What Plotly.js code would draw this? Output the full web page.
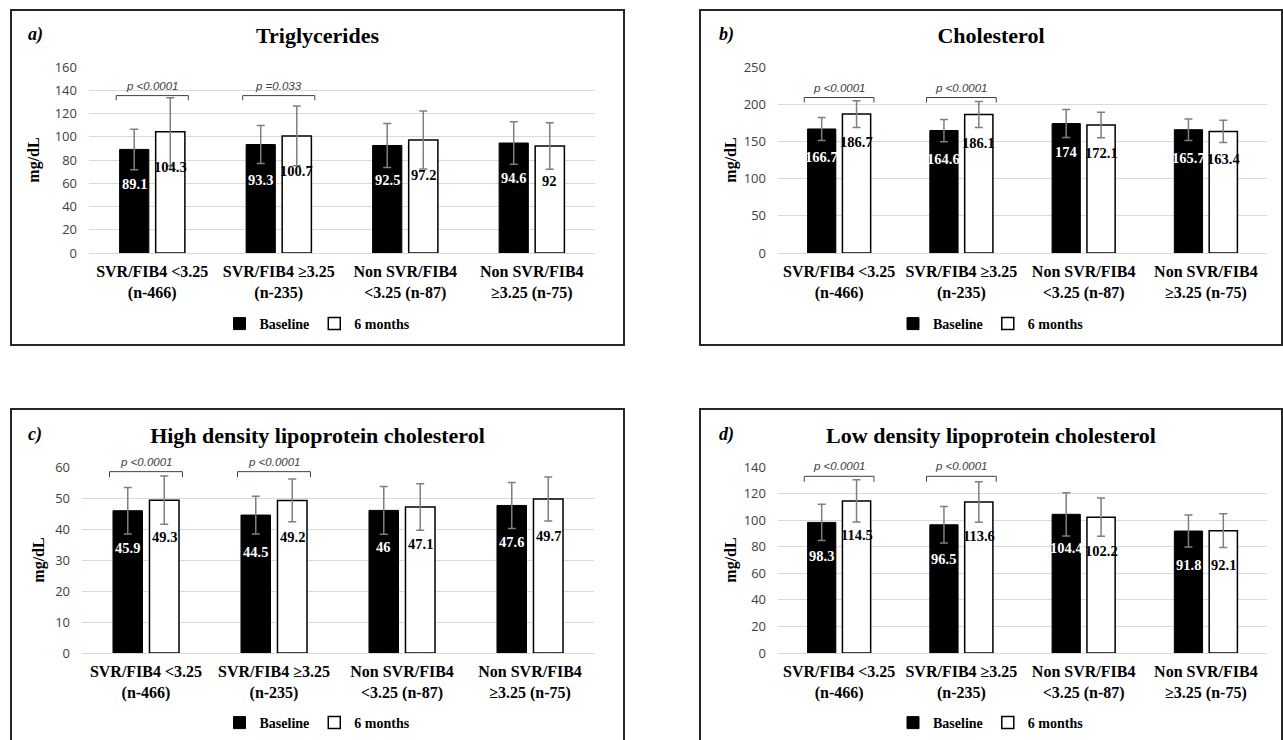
<!DOCTYPE html>
<html>
<head>
<meta charset="utf-8">
<script src="https://cdn.plot.ly/plotly-3.0.1.min.js"></script>
<style>
html, body { margin:0; padding:0; background:#fff; width:1283px; height:740px; overflow:hidden; }
.panel { position:absolute; box-sizing:border-box; border:2px solid #262626; background:#fff; }
</style>
</head>
<body>
<div id="pa" class="panel" style="left:10px;top:9px;width:615px;height:337px"></div>
<div id="pb" class="panel" style="left:699px;top:9px;width:584px;height:337px"></div>
<div id="pc" class="panel" style="left:10px;top:408px;width:615px;height:337px"></div>
<div id="pd" class="panel" style="left:699px;top:408px;width:584px;height:337px"></div>
<script>
// ---------------- data ----------------
const categories = ['SVR/FIB4 &lt;3.25<br>(n-466)', 'SVR/FIB4 ≥3.25<br>(n-235)', 'Non SVR/FIB4<br>&lt;3.25 (n-87)', 'Non SVR/FIB4<br>≥3.25 (n-75)'];
const seriesNames = ['Baseline', '6 months'];

const tgBaseline = [89.1, 93.3, 92.5, 94.6];
const tgSixMonths = [104.3, 100.7, 97.2, 92];
const tgBaselineSD = [17.4, 16.4, 18.9, 18.3];
const tgSixMonthsSD = [29.3, 25.7, 24.9, 20];
const tgPValues = ['p &lt;0.0001', 'p =0.033'];

const cholBaseline = [166.7, 164.6, 174, 165.7];
const cholSixMonths = [186.7, 186.1, 172.1, 163.4];
const cholBaselineSD = [15.4, 15, 18.8, 14.5];
const cholSixMonthsSD = [18.1, 17.4, 17.2, 15];
const cholPValues = ['p &lt;0.0001', 'p &lt;0.0001'];

const hdlBaseline = [45.9, 44.5, 46, 47.6];
const hdlSixMonths = [49.3, 49.2, 47.1, 49.7];
const hdlBaselineSD = [7.5, 6.1, 7.7, 7.4];
const hdlSixMonthsSD = [7.8, 6.9, 7.5, 7.1];
const hdlPValues = ['p &lt;0.0001', 'p &lt;0.0001'];

const ldlBaseline = [98.3, 96.5, 104.4, 91.8];
const ldlSixMonths = [114.5, 113.6, 102.2, 92.1];
const ldlBaselineSD = [13.6, 13.75, 16.25, 12];
const ldlSixMonthsSD = [15.9, 15.25, 14.4, 12.75];
const ldlPValues = ['p &lt;0.0001', 'p &lt;0.0001'];

// ---------------- styling / layout ----------------
const SERIF = '"Liberation Serif", "Times New Roman", serif';
const SANS = '"Liberation Sans", Arial, sans-serif';
const BARGAP = 0.43, BARGROUPGAP = 0.19;

const panels = [
  { id:'pa', tag:'a)', title:'Triglycerides', base:tgBaseline, six:tgSixMonths, baseSD:tgBaselineSD, sixSD:tgSixMonthsSD, p:tgPValues,
    range:[0,160], dtick:20, margin:{l:77, r:28, t:56, b:91}, bracketY:135.4, leg:4, labelShift:35, tagX:14, tagY:24, titleStandoff:11 },
  { id:'pb', tag:'b)', title:'Cholesterol', base:cholBaseline, six:cholSixMonths, baseSD:cholBaselineSD, sixSD:cholSixMonthsSD, p:cholPValues,
    range:[0,250], dtick:50, margin:{l:77, r:14, t:56, b:91}, bracketY:209, leg:6.7, labelShift:28, tagX:16, tagY:24, titleStandoff:3 },
  { id:'pc', tag:'c)', title:'High density lipoprotein cholesterol', base:hdlBaseline, six:hdlSixMonths, baseSD:hdlBaselineSD, sixSD:hdlSixMonthsSD, p:hdlPValues,
    range:[0,60], dtick:10, margin:{l:70, r:29, t:57, b:90}, bracketY:58.5, leg:1.8, labelShift:37, tagX:14, tagY:25, titleStandoff:6 },
  { id:'pd', tag:'d)', title:'Low density lipoprotein cholesterol', base:ldlBaseline, six:ldlSixMonths, baseSD:ldlBaselineSD, sixSD:ldlSixMonthsSD, p:ldlPValues,
    range:[0,140], dtick:20, margin:{l:77, r:14, t:57, b:90}, bracketY:133, leg:4.1, labelShift:34, tagX:16, tagY:25, titleStandoff:3 }
];

function drawPanel(cfg) {
  const el = document.getElementById(cfg.id);
  const W = el.clientWidth, H = el.clientHeight;
  const m = cfg.margin;
  const pw = W - m.l - m.r, ph = H - m.t - m.b;
  const gw = 1 - BARGAP;
  const err = (arr) => ({ type:'data', array:arr, visible:true, color:'#7f7f7f', thickness:1.5, width:4 });

  const traces = [
    { type:'bar', name:seriesNames[0], x:categories, y:cfg.base, error_y:err(cfg.baseSD),
      marker:{ color:'#000000', line:{ color:'#000000', width:1 } }, hoverinfo:'skip' },
    { type:'bar', name:seriesNames[1], x:categories, y:cfg.six, error_y:err(cfg.sixSD),
      marker:{ color:'#ffffff', line:{ color:'#000000', width:1.5 } }, hoverinfo:'skip' }
  ];

  const annotations = [];
  annotations.push({ xref:'paper', yref:'paper', x:(cfg.tagX - m.l) / pw, y:1 + (m.t - cfg.tagY) / ph,
    xanchor:'left', yanchor:'middle', showarrow:false, text:cfg.tag,
    font:{ family:SERIF, size:18, weight:'bold', style:'italic', color:'#000' } });
  [cfg.base, cfg.six].forEach((vals, s) => {
    vals.forEach((v, i) => {
      annotations.push({ xref:'x', yref:'y', x:i + (s === 0 ? -gw / 4 : gw / 4), y:v, yshift:-cfg.labelShift,
        xanchor:'center', yanchor:'middle', showarrow:false, text:String(v),
        font:{ family:SERIF, size:14.5, weight:'bold', color: s === 0 ? '#ffffff' : '#000000' } });
    });
  });
  const shapes = [];
  cfg.p.forEach((txt, i) => {
    const x0 = i - gw / 2, x1 = i + gw / 2;
    const y1 = cfg.bracketY, y0 = cfg.bracketY - cfg.leg;
    shapes.push({ type:'path', xref:'x', yref:'y',
      path:`M${x0},${y0} L${x0},${y1} L${x1},${y1} L${x1},${y0}`,
      line:{ color:'#404040', width:1 } });
    annotations.push({ xref:'x', yref:'y', x:i, y:y1, yshift:2, xanchor:'center', yanchor:'bottom',
      showarrow:false, text:txt,
      font:{ family:SANS, size:11.5, style:'italic', color:'#404040' } });
  });

  const layout = {
    width:W, height:H, margin:m, paper_bgcolor:'#fff', plot_bgcolor:'#fff',
    barmode:'group', bargap:BARGAP, bargroupgap:BARGROUPGAP,
    title:{ text:cfg.title, x:0.5, xref:'container', xanchor:'center', y:1 - cfg.tagY / H, yref:'container', yanchor:'middle',
      font:{ family:SERIF, size:22, weight:'bold', color:'#000' } },
    xaxis:{ type:'category', tickfont:{ family:SERIF, size:16, weight:'bold', color:'#000' }, ticks:'', showgrid:false,
      showline:false, zeroline:false, ticklabelstandoff:7, fixedrange:true },
    yaxis:{ range:cfg.range, dtick:cfg.dtick, tick0:0, showgrid:true, gridcolor:'#d9d9d9', gridwidth:1,
      zeroline:true, zerolinecolor:'#d9d9d9', zerolinewidth:1, showline:false, ticks:'', ticklabelstandoff:11,
      tickfont:{ family:'"Open Sans", sans-serif', size:13, color:'#404040' },
      title:{ text:'mg/dL', standoff:cfg.titleStandoff, font:{ family:SERIF, size:16, weight:'bold', color:'#000' } }, fixedrange:true },
    showlegend:true,
    legend:{ orientation:'h', x:0.5, xref:'container', xanchor:'center', y:1 - 313 / H, yref:'container', yanchor:'middle',
      font:{ family:SERIF, size:14, weight:'bold', color:'#000' }, itemclick:false, itemdoubleclick:false, traceorder:'normal' },
    annotations:annotations, shapes:shapes
  };
  Plotly.newPlot(el, traces, layout, { staticPlot:true, displayModeBar:false });
}
panels.forEach(drawPanel);
</script>
</body>
</html>
